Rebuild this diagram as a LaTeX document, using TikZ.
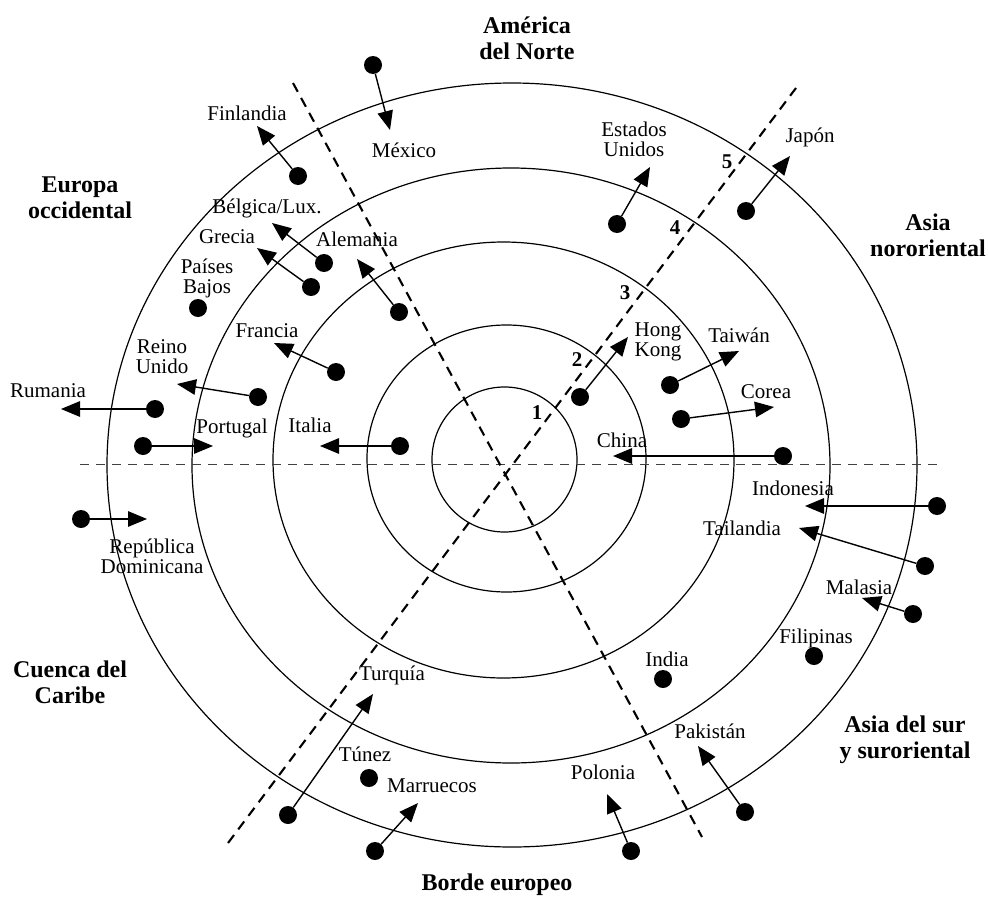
\documentclass[tikz,border=0pt]{standalone}
\usepackage{fontspec}
\setmainfont{Liberation Serif}
\usetikzlibrary{arrows.meta}
\begin{document}
\begin{tikzpicture}[x=1pt,y=-1pt,
  lab/.style={inner sep=0pt, font=\fontsize{21}{20}\selectfont, align=center},
  reg/.style={inner sep=0pt, font=\fontsize{24}{26}\selectfont\bfseries, align=center},
  num/.style={inner sep=0pt, font=\fontsize{21}{21}\selectfont\bfseries},
  dot/.style={circle, fill=black, minimum size=18pt, inner sep=0pt},
  arr/.style={-{Triangle[length=19pt,width=15.5pt]}, line width=1.4pt},
  ring/.style={line width=1.2pt},
  axis/.style={dash pattern=on 10pt off 7pt, line width=2.1pt},
  hax/.style={dash pattern=on 9pt off 7pt, line width=1pt, black!75}]
\useasboundingbox (0,0) rectangle (989,897);
% rings
\draw[ring] (504.5,459.5) circle[x radius=72.5pt, y radius=72.5pt];
\draw[ring] (506.5,458.5) circle[x radius=139.5pt, y radius=133.5pt];
\draw[ring] (503.5,460) circle[x radius=230.5pt, y radius=218pt];
\draw[ring] (511,465.5) circle[x radius=319pt, y radius=297.5pt];
\draw[ring] (512,465) circle[x radius=405pt, y radius=382pt];
% axes
\coordinate (hL) at (80,464);
\coordinate (hR) at (937,464);
\coordinate (d1a) at (293,83);
\coordinate (d1b) at (702,837);
\coordinate (d2a) at (228,843);
\coordinate (d2b) at (796,88);
\draw[hax] (hL) -- (hR);
\draw[axis] (d1a) -- (d1b);
\draw[axis] (d2a) -- (d2b);
% ring numbers
\node[num] (n1) at (537,413) {1};
\node[num] (n2) at (577,360) {2};
\node[num] (n3) at (625,293) {3};
\node[num] (n4) at (675,228) {4};
\node[num] (n5) at (727,162) {5};
% region labels
\node[reg] (rAN) at (527,38) {América\\del Norte};
\node[reg] (rEO) at (80,198) {Europa\\occidental};
\node[reg] (rAO) at (928,235) {Asia\\nororiental};
\node[reg] (rCC) at (70,682) {Cuenca del\\Caribe};
\node[reg] (rAS) at (905,740) {Asia del sur\\y suroriental};
\node[reg] (rBE) at (497,885) {Borde europeo};
% countries
\node[dot] (dFin) at (298,176) {}; \coordinate (tFin) at (257,126);
\draw[arr] (dFin) -- (tFin); \node[lab] (lFin) at (247,113) {Finlandia};
\node[dot] (dMex) at (373,65) {}; \coordinate (tMex) at (390,130);
\draw[arr] (dMex) -- (tMex); \node[lab] (lMex) at (404,150) {México};
\node[dot] (dBel) at (324,263) {}; \coordinate (tBel) at (272,223);
\draw[arr] (dBel) -- (tBel); \node[lab] (lBel) at (267,208) {Bélgica/Lux.};
\node[dot] (dGre) at (311,287) {}; \coordinate (tGre) at (257,248);
\draw[arr] (dGre) -- (tGre); \node[lab] (lGre) at (227,237) {Grecia};
\node[dot] (dAle) at (399,312) {}; \coordinate (tAle) at (357,259);
\draw[arr] (dAle) -- (tAle); \node[lab] (lAle) at (357,239) {Alemania};
\node[dot] (dPB) at (198,308) {}; \node[lab] (lPB) at (207,278) {Países\\Bajos};
\node[dot] (dFra) at (336,372) {}; \coordinate (tFra) at (274,343);
\draw[arr] (dFra) -- (tFra); \node[lab] (lFra) at (267,331) {Francia};
\node[dot] (dRU) at (258,397) {}; \coordinate (tRU) at (177,384);
\draw[arr] (dRU) -- (tRU); \node[lab] (lRU) at (162,357) {Reino\\Unido};
\node[dot] (dRum) at (155,409) {}; \coordinate (tRum) at (61,409);
\draw[arr] (dRum) -- (tRum); \node[lab] (lRum) at (48,391) {Rumania};
\node[dot] (dPor) at (143,446) {}; \coordinate (tPor) at (213,446);
\draw[arr] (dPor) -- (tPor); \node[lab] (lPor) at (232,428) {Portugal};
\node[dot] (dIta) at (400,446) {}; \coordinate (tIta) at (320,446);
\draw[arr] (dIta) -- (tIta); \node[lab] (lIta) at (310,425) {Italia};
\node[dot] (dEU) at (617,224) {}; \coordinate (tEU) at (650,167);
\draw[arr] (dEU) -- (tEU); \node[lab] (lEU) at (634,139) {Estados\\Unidos};
\node[dot] (dJap) at (746,211) {}; \coordinate (tJap) at (790,156);
\draw[arr] (dJap) -- (tJap); \node[lab] (lJap) at (810,137) {Japón};
\node[dot] (dHK) at (580,397) {}; \coordinate (tHK) at (628,337);
\draw[arr] (dHK) -- (tHK); \node[lab] (lHK) at (658,342) {Hong\\Kong};
\node[dot] (dTai) at (670,385) {}; \coordinate (tTai) at (739,351);
\draw[arr] (dTai) -- (tTai); \node[lab] (lTai) at (739,335) {Taiwán};
\node[dot] (dCor) at (681,419) {}; \coordinate (tCor) at (774,407);
\draw[arr] (dCor) -- (tCor); \node[lab] (lCor) at (766,392) {Corea};
\node[dot] (dChi) at (783,456) {}; \coordinate (tChi) at (613,456);
\draw[arr] (dChi) -- (tChi); \node[lab] (lChi) at (622,440) {China};
\node[dot] (dRD) at (81,519) {}; \coordinate (tRD) at (147,519);
\draw[arr] (dRD) -- (tRD); \node[lab] (lRD) at (152,556) {República\\Dominicana};
\node[dot] (dTur) at (288,815) {}; \coordinate (tTur) at (373,694);
\draw[arr] (dTur) -- (tTur); \node[lab] (lTur) at (392,675) {Turquía};
\node[dot] (dTun) at (369,778) {}; \node[lab] (lTun) at (365,754) {Túnez};
\node[dot] (dMar) at (375,851) {}; \coordinate (tMar) at (418,803);
\draw[arr] (dMar) -- (tMar); \node[lab] (lMar) at (432,786) {Marruecos};
\node[dot] (dIdn) at (937,506) {}; \coordinate (tIdn) at (805,506);
\draw[arr] (dIdn) -- (tIdn); \node[lab] (lIdn) at (793,488) {Indonesia};
\node[dot] (dTha) at (925,566) {}; \coordinate (tTha) at (799,528);
\draw[arr] (dTha) -- (tTha); \node[lab] (lTha) at (742,528) {Tailandia};
\node[dot] (dMal) at (913,614) {}; \coordinate (tMal) at (862,598);
\draw[arr] (dMal) -- (tMal); \node[lab] (lMal) at (859,587) {Malasia};
\node[dot] (dFil) at (814,656) {}; \node[lab] (lFil) at (816,638) {Filipinas};
\node[dot] (dInd) at (663,679) {}; \node[lab] (lInd) at (667,659) {India};
\node[dot] (dPak) at (745,812) {}; \coordinate (tPak) at (698,746);
\draw[arr] (dPak) -- (tPak); \node[lab] (lPak) at (710,731) {Pakistán};
\node[dot] (dPol) at (631,851) {}; \coordinate (tPol) at (607,794);
\draw[arr] (dPol) -- (tPol); \node[lab] (lPol) at (603,772) {Polonia};
\end{tikzpicture}
\end{document}
